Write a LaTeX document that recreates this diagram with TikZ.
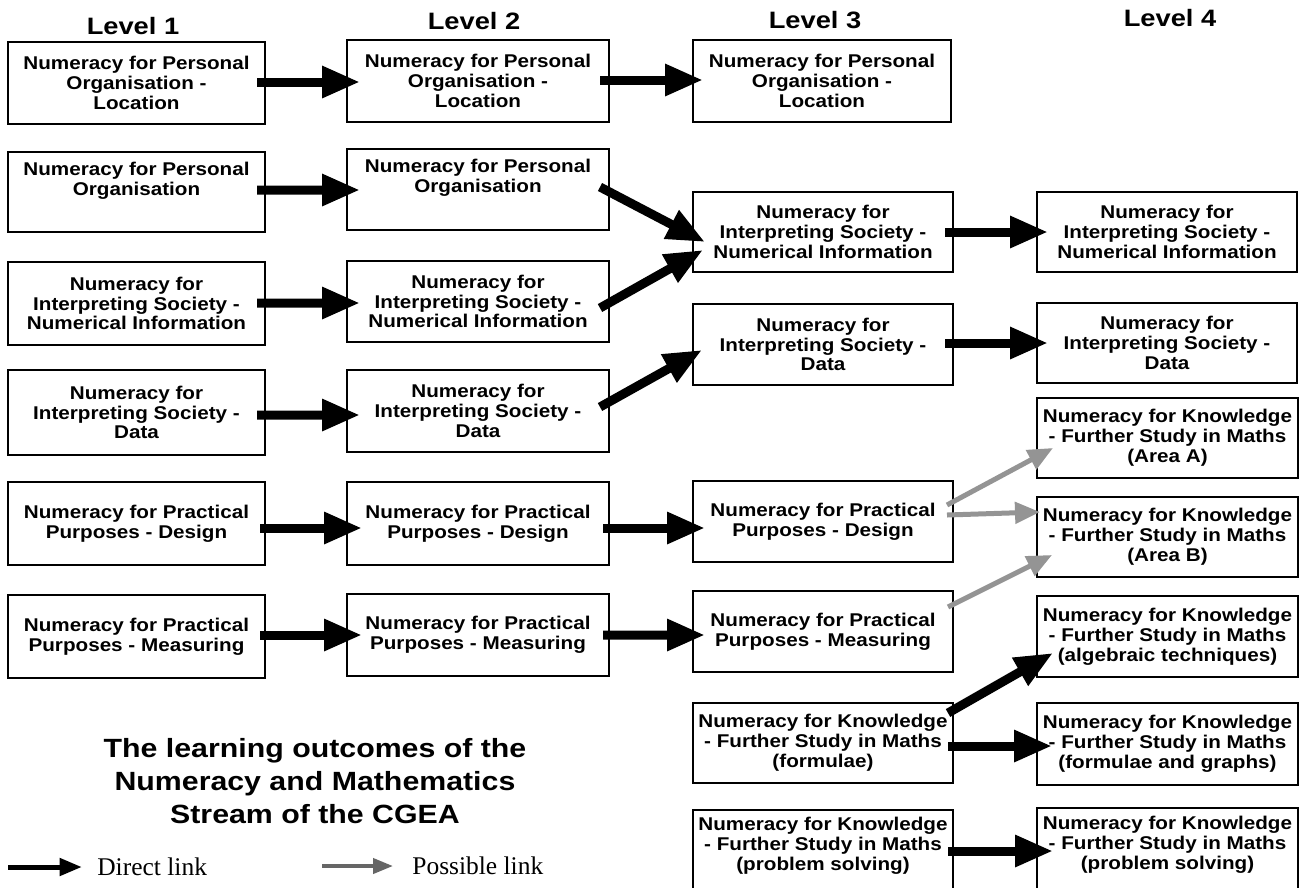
\documentclass[tikz,border=0pt]{standalone}
\usepackage{fontspec}
\setmainfont{Liberation Sans}
\newfontfamily\boxfont{Liberation Sans}[FakeStretch=1.12]
\newfontfamily\headfont{Liberation Sans}[FakeStretch=1.15]
\newfontfamily\legfont{Liberation Serif}
\usetikzlibrary{arrows.meta,calc}
\begin{document}
\begin{tikzpicture}[x=0.02cm,y=-0.02cm,
  box/.style={draw,line width=1.1pt,outer sep=0pt,inner sep=1pt,align=center,
    font=\boxfont\bfseries\fontsize{10.5}{11.3}\selectfont},
  bw/.style={minimum width=#1*0.02cm},
  bh/.style={minimum height=#1*0.02cm},
  level/.style={font=\headfont\bfseries\fontsize{13.5}{15}\selectfont},
  direct/.style={line width=0.18cm,-{Triangle[length=0.76cm,width=0.6cm]}},
  possible/.style={draw=black!42,line width=0.1cm,-{Triangle[length=0.5cm,width=0.42cm]}},
  legdirect/.style={line width=0.1cm,-{Triangle[length=0.45cm,width=0.34cm]}},
  legposs/.style={draw=black!60,line width=0.08cm,-{Triangle[length=0.4cm,width=0.3cm]}},
  legtext/.style={anchor=west,inner sep=0pt,font=\legfont\fontsize{14.5}{16}\selectfont}
]
\clip (0,0) rectangle (1305,887);
\fill[white] (0,0) rectangle (1305,887);

% headings
\node[level] (h1) at (133,26) {Level 1};
\node[level] (h2) at (474,21) {Level 2};
\node[level] (h3) at (815,20) {Level 3};
\node[level] (h4) at (1170,18) {Level 4};

% column 1
\node[box,bw=257,bh=82] (c1r1) at (136.5,83) {Numeracy for Personal\\Organisation -\\Location};
\node[box,bw=257,bh=80] (c1r2) at (136.5,192) {Numeracy for Personal\\Organisation\\[4pt]};
\node[box,bw=257,bh=83] (c1r3) at (136.5,303.5) {Numeracy for\\Interpreting Society -\\Numerical Information};
\node[box,bw=257,bh=85] (c1r4) at (136.5,412.5) {Numeracy for\\Interpreting Society -\\Data};
\node[box,bw=257,bh=83] (c1r5) at (136.5,523.5) {Numeracy for Practical\\Purposes - Design};
\node[box,bw=257,bh=83] (c1r6) at (136.5,636.5) {Numeracy for Practical\\Purposes - Measuring};

% column 2
\node[box,bw=262,bh=82] (c2r1) at (478,81) {Numeracy for Personal\\Organisation -\\Location};
\node[box,bw=262,bh=81] (c2r2) at (478,189.5) {Numeracy for Personal\\Organisation\\[4pt]};
\node[box,bw=262,bh=81] (c2r3) at (478,301.5) {Numeracy for\\Interpreting Society -\\Numerical Information};
\node[box,bw=262,bh=82] (c2r4) at (478,411) {Numeracy for\\Interpreting Society -\\Data};
\node[box,bw=262,bh=83] (c2r5) at (478,523.5) {Numeracy for Practical\\Purposes - Design};
\node[box,bw=262,bh=82] (c2r6) at (478,635) {Numeracy for Practical\\Purposes - Measuring};

% column 3
\node[box,bw=258,bh=82] (c3r1) at (822,81) {Numeracy for Personal\\Organisation -\\Location};
\node[box,bw=260,bh=80] (c3num) at (823,232) {Numeracy for\\Interpreting Society -\\Numerical Information};
\node[box,bw=260,bh=81] (c3dat) at (823,344.5) {Numeracy for\\Interpreting Society -\\Data};
\node[box,bw=260,bh=81] (c3des) at (823,521.5) {Numeracy for Practical\\Purposes - Design};
\node[box,bw=260,bh=81] (c3mea) at (823,631.5) {Numeracy for Practical\\Purposes - Measuring};
\node[box,bw=260,bh=80] (c3for) at (823,743) {Numeracy for Knowledge\\- Further Study in Maths\\(formulae)};
\node[box,bw=260,bh=96] (c3pro) at (823,858) {Numeracy for Knowledge\\- Further Study in Maths\\(problem solving)\\[5pt]};

% column 4
\node[box,bw=260,bh=80] (c4num) at (1167,232) {Numeracy for\\Interpreting Society -\\Numerical Information};
\node[box,bw=260,bh=80] (c4dat) at (1167,343) {Numeracy for\\Interpreting Society -\\Data};
\node[box,bw=261,bh=80] (c4A) at (1167.5,438) {Numeracy for Knowledge\\- Further Study in Maths\\(Area A)};
\node[box,bw=261,bh=80] (c4B) at (1167.5,537) {Numeracy for Knowledge\\- Further Study in Maths\\(Area B)};
\node[box,bw=261,bh=81] (c4alg) at (1167.5,636.5) {Numeracy for Knowledge\\- Further Study in Maths\\(algebraic techniques)};
\node[box,bw=261,bh=82] (c4fg) at (1167.5,744) {Numeracy for Knowledge\\- Further Study in Maths\\(formulae and graphs)};
\node[box,bw=261,bh=98] (c4pro) at (1167.5,857) {Numeracy for Knowledge\\- Further Study in Maths\\(problem solving)\\[5pt]};

% direct links
\draw[direct] ($(c1r1.east)+(-8,-1)$) -- ($(c2r1.west)+(13,1)$);
\draw[direct] ($(c2r1.east)+(-9,-1)$) -- ($(c3r1.west)+(10,-1)$);
\draw[direct] ($(c1r2.east)+(-8,-2)$) -- ($(c2r2.west)+(13,0.5)$);
\draw[direct] ($(c2r2.east)+(-9,-2.5)$) -- ($(c3num.west)+(12,10)$);
\draw[direct] ($(c1r3.east)+(-8,-0.5)$) -- ($(c2r3.west)+(13,1.5)$);
\draw[direct] ($(c2r3.east)+(-9,6.5)$) -- ($(c3num.west)+(10,18)$);
\draw[direct] ($(c1r4.east)+(-8,2.5)$) -- ($(c2r4.west)+(13,4)$);
\draw[direct] ($(c2r4.east)+(-9,-4)$) -- ($(c3dat.west)+(9,5.5)$);
\draw[direct] ($(c3num.east)+(-8,0)$) -- ($(c4num.west)+(11,0)$);
\draw[direct] ($(c3dat.east)+(-8,-1.5)$) -- ($(c4dat.west)+(11,0)$);
\draw[direct] ($(c1r5.east)+(-5,4.5)$) -- ($(c2r5.west)+(15,4.5)$);
\draw[direct] ($(c2r5.east)+(-6,4.5)$) -- ($(c3des.west)+(12,6.5)$);
\draw[direct] ($(c1r6.east)+(-5,-1.5)$) -- ($(c2r6.west)+(15,0)$);
\draw[direct] ($(c2r6.east)+(-6,0)$) -- ($(c3mea.west)+(12,3.5)$);
\draw[direct] ($(c3for.east)+(-5,-30)$) -- ($(c4alg.west)+(16,16.5)$);
\draw[direct] ($(c3for.east)+(-5,3)$) -- ($(c4fg.west)+(15,2)$);
\draw[direct] ($(c3pro.east)+(-5,-7)$) -- ($(c4pro.west)+(16,-6)$);

% possible links
\draw[possible] ($(c3des.east)+(-6,-16.5)$) -- ($(c4A.west)+(16,10)$);
\draw[possible] ($(c3des.east)+(-6,-6.5)$) -- ($(c4B.west)+(3,-25)$);
\draw[possible] ($(c3mea.east)+(-5,-24.5)$) -- ($(c4B.west)+(15,18)$);

% title
\node[align=center,font=\headfont\bfseries\fontsize{15}{18.7}\selectfont] (title) at (315,781)
  {The learning outcomes of the\\Numeracy and Mathematics\\Stream of the CGEA};

% legend
\coordinate (ld1) at (8,867);
\coordinate (ld2) at (82,867);
\coordinate (lp1) at (322,866);
\coordinate (lp2) at (393,866);
\draw[legdirect] (ld1) -- (ld2);
\draw[legposs] (lp1) -- (lp2);
\node[legtext] (ltd) at (97,867) {Direct link};
\node[legtext] (ltp) at (412,866) {Possible link};
\end{tikzpicture}
\end{document}
